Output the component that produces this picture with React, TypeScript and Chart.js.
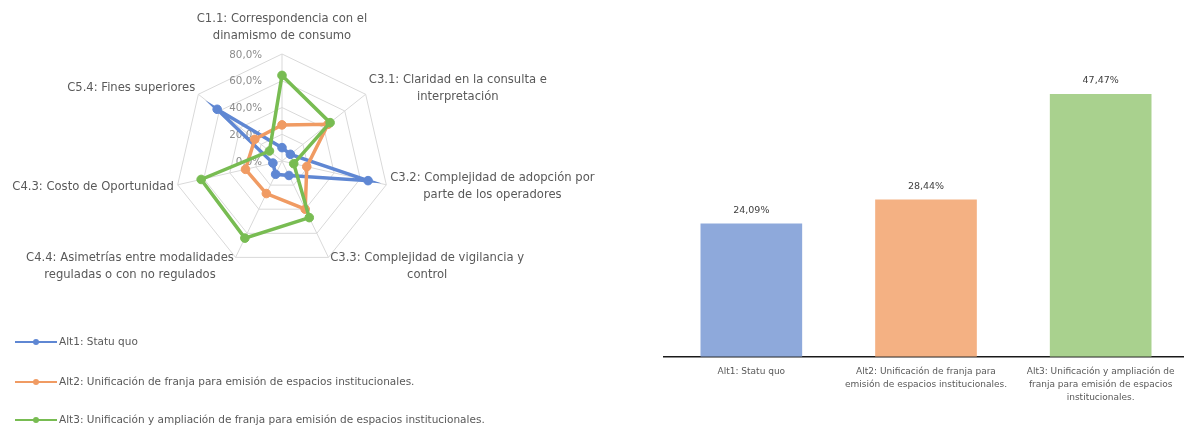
import React, { useEffect, useRef } from 'react';
import { Chart, registerables } from 'chart.js';

Chart.register(...registerables);

const FONT = '"DejaVu Sans", "Liberation Sans", sans-serif';
Chart.defaults.font.family = FONT;

// ---------- Data ----------
const criteria: string[][] = [
  ['C1.1: Correspondencia con el', 'dinamismo de consumo'],
  ['C3.1: Claridad en la consulta e', 'interpretación'],
  ['C3.2: Complejidad de adopción por', 'parte de los operadores'],
  ['C3.3: Complejidad de vigilancia y', 'control'],
  ['C4.4: Asimetrías entre modalidades', 'reguladas o con no regulados'],
  ['C4.3: Costo de Oportunidad'],
  ['C5.4: Fines superiores'],
];

const seriesNames = [
  'Alt1: Statu quo',
  'Alt2: Unificación de franja para emisión de espacios institucionales.',
  'Alt3: Unificación y ampliación de franja para emisión de espacios institucionales.',
];

const alt1Values = [10, 8, 66, 12, 11, 7, 62];
const alt2Values = [27, 44, 19, 40, 27, 28, 26];
const alt3Values = [64, 46, 9, 47, 64, 62, 12];

const radarTickValues = [0, 20, 40, 60, 80];

const barCategories: string[][] = [
  ['Alt1: Statu quo'],
  ['Alt2: Unificación de franja para', 'emisión de espacios institucionales.'],
  ['Alt3: Unificación y ampliación de', 'franja para emisión de espacios', 'institucionales.'],
];
const barValues = [24.09, 28.44, 47.47];

// ---------- Styles ----------
const lineColors = ['#5F87D3', '#F09B63', '#78BC52'];
const barColors = ['#8EA9DB', '#F4B183', '#A9D18E'];
const legendRowsY = [342, 382, 420];

const pctTick = (v: number) => v.toFixed(1).replace('.', ',') + '%';
const pctBar = (v: number) => v.toFixed(2).replace('.', ',') + '%';

const radarTicksPlugin = {
  id: 'radarTicks',
  beforeDatasetsDraw(chart: any) {
    const scale = chart.scales.r;
    const ctx = chart.ctx;
    ctx.save();
    ctx.font = `10.3px ${FONT}`;
    ctx.fillStyle = '#8C8C8C';
    ctx.textAlign = 'right';
    ctx.textBaseline = 'middle';
    radarTickValues.forEach((v) => {
      const d = scale.getDistanceFromCenterForValue(v);
      ctx.fillText(pctTick(v), scale.xCenter - 20, scale.yCenter - d + 1);
    });
    ctx.restore();
  },
};

const radarLabelsPlugin = {
  id: 'radarLabels',
  afterDraw(chart: any) {
    const scale = chart.scales.r;
    const ctx = chart.ctx;
    ctx.save();
    ctx.font = `11.6px ${FONT}`;
    ctx.fillStyle = '#595959';
    ctx.textAlign = 'center';
    ctx.textBaseline = 'middle';
    const lh = 17;
    criteria.forEach((lines, i) => {
      const p = scale.getPointPosition(i, scale.drawingArea + 4);
      const w = Math.max(...lines.map((l) => ctx.measureText(l).width));
      const h = lines.length * lh;
      const dx = p.x - scale.xCenter;
      const dy = p.y - scale.yCenter;
      let cx: number;
      if (Math.abs(dx) < 2) cx = p.x;
      else if (dx > 0) cx = p.x + w / 2;
      else cx = p.x - w / 2;
      let top: number;
      if (Math.abs(dx) < 2 && dy < 0) top = p.y - 6 - h;
      else top = p.y + dy * 0.05 - h / 2;
      lines.forEach((l, k) => {
        ctx.fillText(l, cx, top + lh / 2 + k * lh);
      });
    });
    ctx.restore();
  },
};

const radarLegendPlugin = {
  id: 'radarLegend',
  afterDraw(chart: any) {
    const ctx = chart.ctx;
    ctx.save();
    ctx.font = `10.5px ${FONT}`;
    ctx.textAlign = 'left';
    ctx.textBaseline = 'middle';
    seriesNames.forEach((name, i) => {
      const y = legendRowsY[i];
      ctx.strokeStyle = lineColors[i];
      ctx.lineWidth = 2;
      ctx.beginPath();
      ctx.moveTo(15, y);
      ctx.lineTo(57, y);
      ctx.stroke();
      ctx.fillStyle = lineColors[i];
      ctx.beginPath();
      ctx.arc(36, y, 3, 0, Math.PI * 2);
      ctx.fill();
      ctx.fillStyle = '#595959';
      ctx.fillText(name, 59, y);
    });
    ctx.restore();
  },
};

const barValuePlugin = {
  id: 'barValues',
  afterDatasetsDraw(chart: any) {
    const ctx = chart.ctx;
    const meta = chart.getDatasetMeta(0);
    ctx.save();
    ctx.font = `9.5px ${FONT}`;
    ctx.fillStyle = '#404040';
    ctx.textAlign = 'center';
    ctx.textBaseline = 'middle';
    meta.data.forEach((el: any, i: number) => {
      ctx.fillText(pctBar(barValues[i]), el.x, el.y - 13);
    });
    ctx.restore();
  },
};

export default function App() {
  const radarRef = useRef<HTMLCanvasElement>(null);
  const barRef = useRef<HTMLCanvasElement>(null);

  useEffect(() => {
    const allSeries = [alt1Values, alt2Values, alt3Values];
    const radar = new Chart(radarRef.current as HTMLCanvasElement, {
      type: 'radar',
      data: {
        labels: criteria.map((c) => c.join(' ')),
        datasets: allSeries.map((vals, i) => ({
          label: seriesNames[i],
          data: vals,
          borderColor: lineColors[i],
          backgroundColor: lineColors[i],
          pointBackgroundColor: lineColors[i],
          pointBorderColor: lineColors[i],
          borderWidth: 3.5,
          pointRadius: 4.3,
          pointBorderWidth: 1,
          fill: false,
          order: 3 - i,
        })),
      },
      options: {
        animation: false,
        responsive: false,
        layout: { padding: { top: 54, bottom: 166, left: 0, right: 36 } },
        plugins: { legend: { display: false }, tooltip: { enabled: false } },
        elements: { line: { tension: 0 } },
        scales: {
          r: {
            min: 0,
            max: 80,
            ticks: { stepSize: 20, display: false },
            grid: { color: '#D9D9D9', lineWidth: 1 },
            angleLines: { color: '#D9D9D9', lineWidth: 1 },
            pointLabels: { display: false },
          },
        },
      },
      plugins: [radarTicksPlugin, radarLabelsPlugin, radarLegendPlugin],
    } as any);

    const bar = new Chart(barRef.current as HTMLCanvasElement, {
      type: 'bar',
      data: {
        labels: barCategories,
        datasets: [
          {
            data: barValues,
            backgroundColor: barColors,
            borderWidth: 0,
            barPercentage: 0.582,
            categoryPercentage: 1,
          },
        ],
      },
      options: {
        animation: false,
        responsive: false,
        layout: { padding: { top: 80, bottom: 22, left: 14, right: 2 } },
        plugins: { legend: { display: false }, tooltip: { enabled: false } },
        scales: {
          x: {
            grid: { display: false, drawTicks: false },
            border: { display: true, color: '#1A1A1A', width: 1.5 },
            ticks: {
              color: '#595959',
              font: { size: 9, lineHeight: 1.45 },
              padding: 8,
              maxRotation: 0,
              autoSkip: false,
            },
          },
          y: { display: false, min: 0, max: 50 },
        },
      },
      plugins: [barValuePlugin],
    } as any);

    return () => {
      radar.destroy();
      bar.destroy();
    };
  }, []);

  return (
    <div
      style={{
        position: 'absolute',
        left: 0,
        top: 0,
        width: 1184,
        height: 434,
        overflow: 'hidden',
        background: '#ffffff',
      }}
    >
      <canvas
        ref={radarRef}
        width={600}
        height={434}
        style={{ position: 'absolute', left: 0, top: 0, width: 600, height: 434 }}
      />
      <canvas
        ref={barRef}
        width={540}
        height={434}
        style={{ position: 'absolute', left: 650, top: 0, width: 540, height: 434 }}
      />
    </div>
  );
}
